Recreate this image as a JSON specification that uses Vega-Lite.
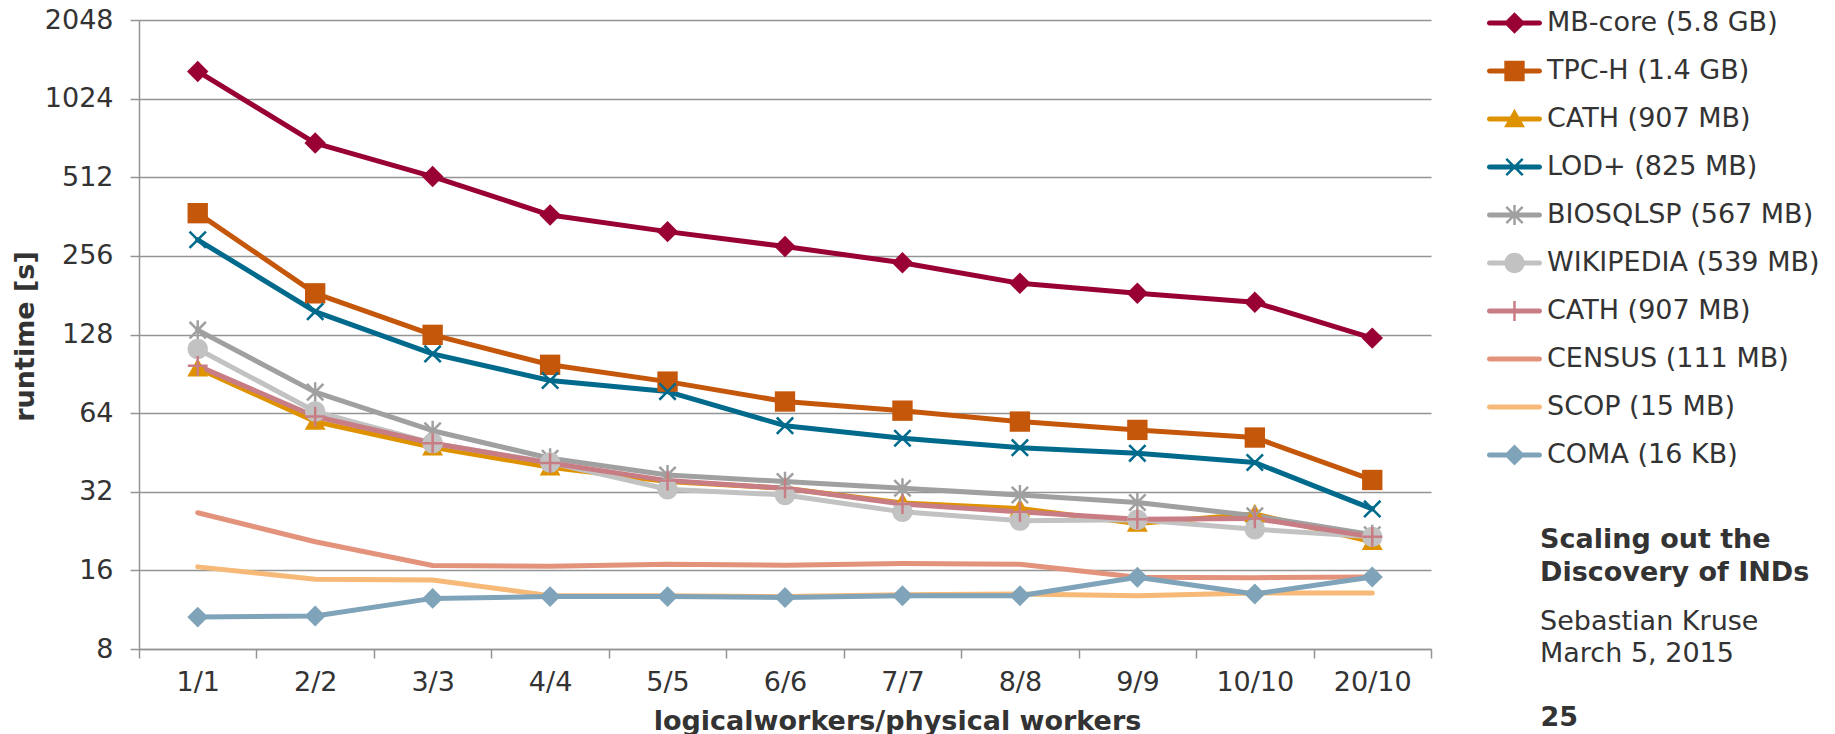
{
  "$schema": "https://vega.github.io/schema/vega-lite/v6.json",
  "width": 1292,
  "height": 629,
  "autosize": {"type": "none"},
  "padding": {"left": 139, "top": 20, "right": 404, "bottom": 85},
  "background": "white",
  "config": {
    "view": {"stroke": null},
    "font": "DejaVu Sans",
    "axis": {
      "labelFont": "DejaVu Sans", "labelFontSize": 27, "labelColor": "#333333",
      "titleFont": "DejaVu Sans", "titleFontSize": 27, "titleColor": "#333333", "titleFontWeight": "bold",
      "domainColor": "#949494", "domainWidth": 1.5, "tickColor": "#949494", "tickWidth": 1.5, "tickSize": 9,
      "gridColor": "#949494", "gridWidth": 1.5, "gridOpacity": 1
    },
    "legend": {"labelFont": "DejaVu Sans"},
    "title": {
      "font": "DejaVu Sans", "fontSize": 27, "fontWeight": "bold", "color": "#333333",
      "subtitleFont": "DejaVu Sans", "subtitleFontSize": 27, "subtitleColor": "#333333", "subtitleFontWeight": "normal"
    }
  },
  "title": {
    "text": ["Scaling out the", "Discovery of INDs"],
    "subtitle": ["Sebastian Kruse", "March 5, 2015"],
    "orient": "top", "anchor": "start", "frame": "group", "align": "left",
    "dx": 1401, "dy": 672, "lineHeight": 33, "subtitleLineHeight": 32, "subtitlePadding": 22
  },
  "data": {"values": [
    {"w": "1/1", "series": "MB-core (5.8 GB)", "t": 1301}, {"w": "2/2", "series": "MB-core (5.8 GB)", "t": 692}, {"w": "3/3", "series": "MB-core (5.8 GB)", "t": 515}, {"w": "4/4", "series": "MB-core (5.8 GB)", "t": 367}, {"w": "5/5", "series": "MB-core (5.8 GB)", "t": 317}, {"w": "6/6", "series": "MB-core (5.8 GB)", "t": 278}, {"w": "7/7", "series": "MB-core (5.8 GB)", "t": 241}, {"w": "8/8", "series": "MB-core (5.8 GB)", "t": 201}, {"w": "9/9", "series": "MB-core (5.8 GB)", "t": 184}, {"w": "10/10", "series": "MB-core (5.8 GB)", "t": 170}, {"w": "20/10", "series": "MB-core (5.8 GB)", "t": 124},
    {"w": "1/1", "series": "TPC-H (1.4 GB)", "t": 373}, {"w": "2/2", "series": "TPC-H (1.4 GB)", "t": 184}, {"w": "3/3", "series": "TPC-H (1.4 GB)", "t": 127.6}, {"w": "4/4", "series": "TPC-H (1.4 GB)", "t": 98}, {"w": "5/5", "series": "TPC-H (1.4 GB)", "t": 84.5}, {"w": "6/6", "series": "TPC-H (1.4 GB)", "t": 70.9}, {"w": "7/7", "series": "TPC-H (1.4 GB)", "t": 65.4}, {"w": "8/8", "series": "TPC-H (1.4 GB)", "t": 59.4}, {"w": "9/9", "series": "TPC-H (1.4 GB)", "t": 55.2}, {"w": "10/10", "series": "TPC-H (1.4 GB)", "t": 51.6}, {"w": "20/10", "series": "TPC-H (1.4 GB)", "t": 35.5},
    {"w": "1/1", "series": "CATH (907 MB)", "t": 95}, {"w": "2/2", "series": "CATH (907 MB)", "t": 59.4}, {"w": "3/3", "series": "CATH (907 MB)", "t": 47.4}, {"w": "4/4", "series": "CATH (907 MB)", "t": 39.7}, {"w": "5/5", "series": "CATH (907 MB)", "t": 35}, {"w": "6/6", "series": "CATH (907 MB)", "t": 33}, {"w": "7/7", "series": "CATH (907 MB)", "t": 29}, {"w": "8/8", "series": "CATH (907 MB)", "t": 27.6}, {"w": "9/9", "series": "CATH (907 MB)", "t": 24.2}, {"w": "10/10", "series": "CATH (907 MB)", "t": 26.3}, {"w": "20/10", "series": "CATH (907 MB)", "t": 20.6},
    {"w": "1/1", "series": "LOD+ (825 MB)", "t": 295}, {"w": "2/2", "series": "LOD+ (825 MB)", "t": 156.6}, {"w": "3/3", "series": "LOD+ (825 MB)", "t": 107.9}, {"w": "4/4", "series": "LOD+ (825 MB)", "t": 85.3}, {"w": "5/5", "series": "LOD+ (825 MB)", "t": 77.4}, {"w": "6/6", "series": "LOD+ (825 MB)", "t": 57.3}, {"w": "7/7", "series": "LOD+ (825 MB)", "t": 51.3}, {"w": "8/8", "series": "LOD+ (825 MB)", "t": 47.2}, {"w": "9/9", "series": "LOD+ (825 MB)", "t": 44.9}, {"w": "10/10", "series": "LOD+ (825 MB)", "t": 41.4}, {"w": "20/10", "series": "LOD+ (825 MB)", "t": 27.5},
    {"w": "1/1", "series": "BIOSQLSP (567 MB)", "t": 133}, {"w": "2/2", "series": "BIOSQLSP (567 MB)", "t": 77}, {"w": "3/3", "series": "BIOSQLSP (567 MB)", "t": 54.8}, {"w": "4/4", "series": "BIOSQLSP (567 MB)", "t": 43}, {"w": "5/5", "series": "BIOSQLSP (567 MB)", "t": 37.1}, {"w": "6/6", "series": "BIOSQLSP (567 MB)", "t": 35}, {"w": "7/7", "series": "BIOSQLSP (567 MB)", "t": 33}, {"w": "8/8", "series": "BIOSQLSP (567 MB)", "t": 31.1}, {"w": "9/9", "series": "BIOSQLSP (567 MB)", "t": 29.1}, {"w": "10/10", "series": "BIOSQLSP (567 MB)", "t": 25.9}, {"w": "20/10", "series": "BIOSQLSP (567 MB)", "t": 21.9},
    {"w": "1/1", "series": "WIKIPEDIA (539 MB)", "t": 112.7}, {"w": "2/2", "series": "WIKIPEDIA (539 MB)", "t": 64.9}, {"w": "3/3", "series": "WIKIPEDIA (539 MB)", "t": 49.1}, {"w": "4/4", "series": "WIKIPEDIA (539 MB)", "t": 41.4}, {"w": "5/5", "series": "WIKIPEDIA (539 MB)", "t": 32.7}, {"w": "6/6", "series": "WIKIPEDIA (539 MB)", "t": 31.1}, {"w": "7/7", "series": "WIKIPEDIA (539 MB)", "t": 26.8}, {"w": "8/8", "series": "WIKIPEDIA (539 MB)", "t": 24.8}, {"w": "9/9", "series": "WIKIPEDIA (539 MB)", "t": 25}, {"w": "10/10", "series": "WIKIPEDIA (539 MB)", "t": 23}, {"w": "20/10", "series": "WIKIPEDIA (539 MB)", "t": 21.5},
    {"w": "1/1", "series": "CATH (907 MB) ", "t": 97.1}, {"w": "2/2", "series": "CATH (907 MB) ", "t": 62.1}, {"w": "3/3", "series": "CATH (907 MB) ", "t": 49.1}, {"w": "4/4", "series": "CATH (907 MB) ", "t": 41.2}, {"w": "5/5", "series": "CATH (907 MB) ", "t": 35.3}, {"w": "6/6", "series": "CATH (907 MB) ", "t": 33}, {"w": "7/7", "series": "CATH (907 MB) ", "t": 28.7}, {"w": "8/8", "series": "CATH (907 MB) ", "t": 26.8}, {"w": "9/9", "series": "CATH (907 MB) ", "t": 25.1}, {"w": "10/10", "series": "CATH (907 MB) ", "t": 25.3}, {"w": "20/10", "series": "CATH (907 MB) ", "t": 21.5},
    {"w": "1/1", "series": "CENSUS (111 MB)", "t": 26.6}, {"w": "2/2", "series": "CENSUS (111 MB)", "t": 20.6}, {"w": "3/3", "series": "CENSUS (111 MB)", "t": 16.7}, {"w": "4/4", "series": "CENSUS (111 MB)", "t": 16.6}, {"w": "5/5", "series": "CENSUS (111 MB)", "t": 16.9}, {"w": "6/6", "series": "CENSUS (111 MB)", "t": 16.75}, {"w": "7/7", "series": "CENSUS (111 MB)", "t": 17}, {"w": "8/8", "series": "CENSUS (111 MB)", "t": 16.9}, {"w": "9/9", "series": "CENSUS (111 MB)", "t": 15.05}, {"w": "10/10", "series": "CENSUS (111 MB)", "t": 15}, {"w": "20/10", "series": "CENSUS (111 MB)", "t": 15.1},
    {"w": "1/1", "series": "SCOP (15 MB)", "t": 16.5}, {"w": "2/2", "series": "SCOP (15 MB)", "t": 14.8}, {"w": "3/3", "series": "SCOP (15 MB)", "t": 14.7}, {"w": "4/4", "series": "SCOP (15 MB)", "t": 12.8}, {"w": "5/5", "series": "SCOP (15 MB)", "t": 12.8}, {"w": "6/6", "series": "SCOP (15 MB)", "t": 12.7}, {"w": "7/7", "series": "SCOP (15 MB)", "t": 12.9}, {"w": "8/8", "series": "SCOP (15 MB)", "t": 13}, {"w": "9/9", "series": "SCOP (15 MB)", "t": 12.8}, {"w": "10/10", "series": "SCOP (15 MB)", "t": 13.1}, {"w": "20/10", "series": "SCOP (15 MB)", "t": 13.1},
    {"w": "1/1", "series": "COMA (16 KB)", "t": 10.6}, {"w": "2/2", "series": "COMA (16 KB)", "t": 10.7}, {"w": "3/3", "series": "COMA (16 KB)", "t": 12.5}, {"w": "4/4", "series": "COMA (16 KB)", "t": 12.7}, {"w": "5/5", "series": "COMA (16 KB)", "t": 12.7}, {"w": "6/6", "series": "COMA (16 KB)", "t": 12.6}, {"w": "7/7", "series": "COMA (16 KB)", "t": 12.8}, {"w": "8/8", "series": "COMA (16 KB)", "t": 12.8}, {"w": "9/9", "series": "COMA (16 KB)", "t": 15.05}, {"w": "10/10", "series": "COMA (16 KB)", "t": 13}, {"w": "20/10", "series": "COMA (16 KB)", "t": 15.1}
  ]},
  "encoding": {
    "x": {
      "field": "w", "type": "ordinal",
      "scale": {"type": "band", "domain": ["1/1", "2/2", "3/3", "4/4", "5/5", "6/6", "7/7", "8/8", "9/9", "10/10", "20/10"], "paddingInner": 0, "paddingOuter": 0},
      "axis": {"title": "logicalworkers/physical workers", "labelAngle": 0, "tickBand": "extent", "grid": false, "labelPadding": 11, "titleX": 758, "titleY": 80, "titleBaseline": "alphabetic", "titleAlign": "center", "titleAnchor": null}
    }
  },
  "resolve": {"axis": {"y": "independent"}},
  "layer": [
    {
      "mark": {"type": "line", "strokeWidth": 5, "strokeJoin": "round", "strokeCap": "round"},
      "encoding": {
        "y": {
          "field": "t", "type": "quantitative",
          "scale": {"type": "log", "base": 2, "domain": [8, 2048], "nice": false, "zero": false},
          "axis": {"title": "runtime [s]", "values": [8, 16, 32, 64, 128, 256, 512, 1024, 2048], "format": "d", "grid": true, "labelPadding": 17, "titleX": -114, "titleY": 316, "titleAlign": "center", "titleBaseline": "middle", "titleAngle": 270}
        },
        "order": {"value": null},
        "color": {
          "field": "series", "type": "nominal",
          "scale": {
            "domain": ["MB-core (5.8 GB)", "TPC-H (1.4 GB)", "CATH (907 MB)", "LOD+ (825 MB)", "BIOSQLSP (567 MB)", "WIKIPEDIA (539 MB)", "CATH (907 MB) ", "CENSUS (111 MB)", "SCOP (15 MB)", "COMA (16 KB)"],
            "range": ["#990033", "#c4570a", "#df9200", "#006a8c", "#a0a0a0", "#c2c2c2", "#c87c84", "#e3937c", "#f6b977", "#7fa3b9"]
          },
          "legend": {
            "title": null, "orient": "none", "legendX": 1348, "legendY": -20, "padding": 0, "columns": 1,
            "symbolSize": 3025, "symbolOffset": 0, "labelOffset": 5, "clipHeight": 46, "rowPadding": 2,
            "labelFontSize": 27, "labelColor": "#333333", "labelLimit": 500,
            "encoding": {"symbols": {
              "shape": {"value": {"expr": "'M-0.909,-0.091L0.909,-0.091A0.091,0.091 0 0 1 0.909,0.091L-0.909,0.091A0.091,0.091 0 0 1 -0.909,-0.091Z' + scale('shape', datum.value)"}},
              "fill": {"value": {"expr": "scale('color', datum.value)"}},
              "strokeWidth": {"value": 0},
              "size": {"value": 3025},
              "opacity": {"value": 1}
            }}
          }
        }
      }
    },
    {
      "mark": {"type": "point", "filled": true, "size": 3025, "strokeWidth": 0, "opacity": 1},
      "encoding": {
        "y": {
          "field": "t", "type": "quantitative",
          "scale": {"type": "log", "base": 2, "domain": [8, 2048], "nice": false, "zero": false},
          "axis": {"orient": "right", "title": "25", "labels": false, "ticks": false, "domain": false, "grid": false, "titleAngle": 0, "titleAlign": "left", "titleBaseline": "alphabetic", "titleX": 109, "titleY": 705, "titleFontWeight": "bold"}
        },
        "color": {
          "field": "series", "type": "nominal",
          "legend": {
            "title": null, "orient": "none", "legendX": 1348, "legendY": -20, "padding": 0, "columns": 1,
            "symbolSize": 3025, "symbolOffset": 0, "labelOffset": 5, "clipHeight": 46, "rowPadding": 2,
            "labelFontSize": 27, "labelColor": "#333333", "labelLimit": 500,
            "encoding": {"symbols": {
              "shape": {"value": {"expr": "'M-0.909,-0.091L0.909,-0.091A0.091,0.091 0 0 1 0.909,0.091L-0.909,0.091A0.091,0.091 0 0 1 -0.909,-0.091Z' + scale('shape', datum.value)"}},
              "fill": {"value": {"expr": "scale('color', datum.value)"}},
              "strokeWidth": {"value": 0},
              "size": {"value": 3025},
              "opacity": {"value": 1}
            }}
          }
        },
        "shape": {
          "field": "series", "type": "nominal", "legend": null,
          "scale": {
            "domain": ["COMA (16 KB)", "SCOP (15 MB)", "CENSUS (111 MB)", "CATH (907 MB) ", "WIKIPEDIA (539 MB)", "BIOSQLSP (567 MB)", "LOD+ (825 MB)", "CATH (907 MB)", "TPC-H (1.4 GB)", "MB-core (5.8 GB)"],
            "range": [
              "M0,-0.38L0.38,0L0,0.38L-0.38,0Z",
              "M0,0L0,0Z",
              "M0,0L0,0Z",
              "M-0.045,-0.36L0.045,-0.36L0.045,-0.045L0.36,-0.045L0.36,0.045L0.045,0.045L0.045,0.36L-0.045,0.36L-0.045,0.045L-0.36,0.045L-0.36,-0.045L-0.045,-0.045Z",
              "M-0.37,0A0.37,0.37 0 1 1 0.37,0A0.37,0.37 0 1 1 -0.37,0Z",
              "M-0.265,-0.33L0,-0.065L0.265,-0.33L0.33,-0.265L0.065,0L0.33,0.265L0.265,0.33L0,0.065L-0.265,0.33L-0.33,0.265L-0.065,0L-0.33,-0.265ZM-0.045,-0.36L0.045,-0.36L0.045,0.36L-0.045,0.36Z",
              "M-0.265,-0.33L0,-0.065L0.265,-0.33L0.33,-0.265L0.065,0L0.33,0.265L0.265,0.33L0,0.065L-0.265,0.33L-0.33,0.265L-0.065,0L-0.33,-0.265Z",
              "M0,-0.37L0.38,0.3L-0.38,0.3Z",
              "M-0.37,-0.37L0.37,-0.37L0.37,0.37L-0.37,0.37Z",
              "M0,-0.39L0.39,0L0,0.39L-0.39,0Z"
            ]
          }
        }
      }
    }
  ]
}
